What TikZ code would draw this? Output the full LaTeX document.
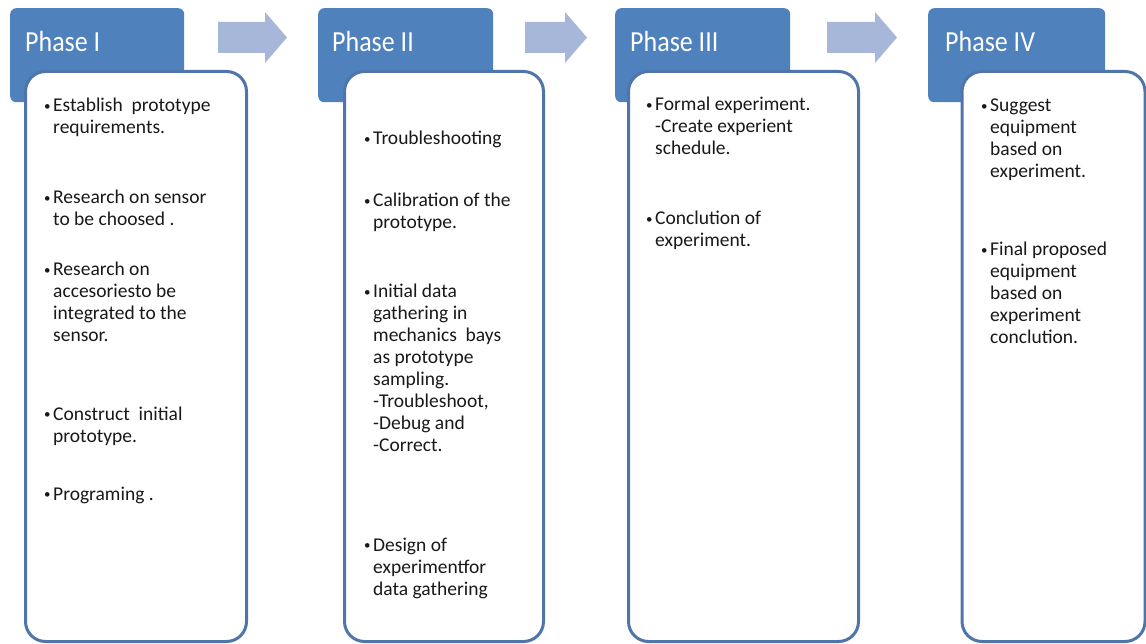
\documentclass[tikz,border=0pt]{standalone}
\usepackage{fontspec}
\setmainfont{Carlito}
\definecolor{hdrblue}{RGB}{79,129,189}
\definecolor{bodyline}{RGB}{80,117,170}
\definecolor{arrowfill}{RGB}{167,183,217}
\definecolor{bodytext}{RGB}{25,25,25}
\newcommand{\bul}{\makebox[9pt][l]{\fontsize{13}{13}\selectfont\raisebox{1.2pt}{•}}}
\newcommand{\items}[1]{\begin{tabular}[t]{@{}l@{}l@{}}#1\end{tabular}}
\newcommand{\ttl}[1]{\scalebox{1}[1.12]{#1}}
\begin{document}
\begin{tikzpicture}[x=1pt,y=-1pt,
  header/.style={fill=hdrblue, draw=none, rounded corners=6pt, anchor=north west, inner sep=0pt},
  body/.style={fill=white, draw=bodyline, line width=3pt, rounded corners=20pt, anchor=north west, inner sep=0pt},
  title/.style={anchor=base west, inner sep=0pt, text=white, font=\fontsize{26}{30}\selectfont},
  bullet/.style={anchor=base west, inner sep=0pt, text=bodytext, font=\fontsize{19.5}{22}\selectfont},
  blockarrow/.style={fill=arrowfill, draw=none}]
\useasboundingbox[fill=white] (0,0) rectangle (1146,644);

% block arrows
\fill[blockarrow] (218,22) -- (265,22) -- (265,12) -- (287,37.5) -- (265,63) -- (265,53) -- (218,53) -- cycle;
\fill[blockarrow] (525,22) -- (565,22) -- (565,12) -- (587,37.5) -- (565,63) -- (565,53) -- (525,53) -- cycle;
\fill[blockarrow] (827,22) -- (875,22) -- (875,12) -- (897,37.5) -- (875,63) -- (875,53) -- (827,53) -- cycle;

% headers
\node[header, minimum width=174pt, minimum height=94pt] (h1) at (10,8) {};
\node[header, minimum width=175pt, minimum height=94pt] (h2) at (318,8) {};
\node[header, minimum width=175pt, minimum height=94pt] (h3) at (615,8) {};
\node[header, minimum width=177pt, minimum height=94pt] (h4) at (928,8) {};
\node[title] (t1) at (25,52) {\ttl{Phase I}};
\node[title] (t2) at (332,52) {\ttl{Phase II}};
\node[title] (t3) at (630,52) {\ttl{Phase III}};
\node[title] (t4) at (945,52) {\ttl{Phase IV}};

% bodies
\node[body, minimum width=221pt, minimum height=570pt] (b1) at (24,70) {};
\node[body, minimum width=199pt, minimum height=570pt] (b2) at (343,70) {};
\node[body, minimum width=230pt, minimum height=570pt] (b3) at (627,70) {};
\node[body, minimum width=183pt, minimum height=570pt] (b4) at (960.5,70) {};

% Phase I text
\node[bullet] (p1a) at (44,112) {\items{\bul&Establish\ \ prototype\\&requirements.}};
\node[bullet] (p1b) at (44,204) {\items{\bul&Research on sensor\\&to be choosed .}};
\node[bullet] (p1c) at (44,276) {\items{\bul&Research on\\&accesoriesto be\\&integrated to the\\&sensor.}};
\node[bullet] (p1d) at (44,420) {\items{\bul&Construct\ \ initial\\&prototype.}};
\node[bullet] (p1e) at (44,500) {\items{\bul&Programing .}};

% Phase II text
\node[bullet] (p2a) at (364,145) {\items{\bul&Troubleshooting}};
\node[bullet] (p2b) at (364,207) {\items{\bul&Calibration of the\\&prototype.}};
\node[bullet] (p2c) at (364,298) {\items{\bul&Initial data\\&gathering in\\&mechanics\ \ bays\\&as prototype\\&sampling.\\&-Troubleshoot,\\&-Debug and\\&-Correct.}};
\node[bullet] (p2d) at (364,551) {\items{\bul&Design of\\&experimentfor\\&data gathering}};

% Phase III text
\node[bullet] (p3a) at (646,111) {\items{\bul&Formal experiment.\\&-Create experient\\&schedule.}};
\node[bullet] (p3b) at (646,225) {\items{\bul&Conclution of\\&experiment.}};

% Phase IV text
\node[bullet] (p4a) at (981,112) {\items{\bul&Suggest\\&equipment\\&based on\\&experiment.}};
\node[bullet] (p4b) at (981,256) {\items{\bul&Final proposed\\&equipment\\&based on\\&experiment\\&conclution.}};
\end{tikzpicture}
\end{document}
